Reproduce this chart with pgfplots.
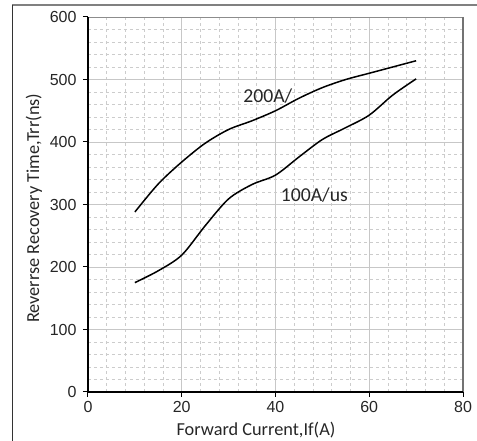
\documentclass[border=0pt]{standalone}
\usepackage{pgfplots}
\pgfplotsset{compat=1.18}
\usepackage{fontspec}
\setmainfont{Carlito}
\newfontfamily\arialfont{Liberation Sans}
\begin{document}
\begin{tikzpicture}[x=1pt,y=1pt]
\path[use as bounding box] (0,0) rectangle (477,441);
\draw[color=black!50, line width=1.6pt] (12,436) -- (477,436);
\draw[color=black!80, line width=1.3pt] (12.5,436) -- (12.5,0);
\begin{axis}[
  at={(88pt,49pt)}, anchor=south west,
  scale only axis, width=375pt, height=375pt,
  xmin=0, xmax=80, ymin=0, ymax=600,
  xtick={0,20,...,80}, ytick={0,100,...,600},
  minor x tick num=4, minor y tick num=4,
  grid=both,
  major grid style={color=black!22, line width=0.8pt},
  minor grid style={color=black!20, dashed, line width=0.6pt},
  axis line style={draw=none},
  tick align=outside, tick pos=left,
  major tick length=5pt, minor tick length=0pt,
  tick style={black, line width=1pt},
  /pgf/number format/assume math mode=true,
  ticklabel style={font=\arialfont\fontsize{16}{18}\selectfont, text=black!85},
  yticklabel style={xshift=-3pt},
  xticklabel style={yshift=-1pt},
  xlabel={Forward Current,If(A)},
  ylabel={Reverrse Recovery Time,Trr(ns)},
  label style={font=\fontsize{18.3}{20}\selectfont, text=black!85},
  x label style={at={(axis description cs:0.448,-0.101)}, anchor=center},
  y label style={at={(axis description cs:-0.144,0.49)}, anchor=center, rotate=0},
  clip=false,
]
% frame of the plot area
\draw[black!45, line width=0.8pt] (rel axis cs:0,1) -- (rel axis cs:1,1);
\draw[black!55, line width=1.8pt] (rel axis cs:1,1) -- (rel axis cs:1,0);
\draw[black, line width=1.6pt] (rel axis cs:0,1) -- (rel axis cs:0,0) -- (rel axis cs:1,0);
\addplot[black, line width=1.5pt, smooth] coordinates {
(10,288) (15,333) (20,368) (25,398) (30,420) (35,434) (40,450) (45,470)
(50,487) (55,500) (60,510) (65,520) (70,530)
};
\addplot[black, line width=1.5pt, smooth] coordinates {
(10,175) (15,194) (20,219) (25,266) (30,309) (35,332) (40,347) (45,376)
(50,404) (55,423) (60,443) (65,475) (70,501)
};
\node[anchor=west, inner sep=0pt, font=\fontsize{19.7}{21}\selectfont, text=black!85] at (axis cs:33.1,473.6) {200A/};
\node[anchor=west, inner sep=0pt, font=\fontsize{19.7}{21}\selectfont, text=black!85] at (axis cs:41.1,315) {100A/us};
\end{axis}
\end{tikzpicture}
\end{document}
